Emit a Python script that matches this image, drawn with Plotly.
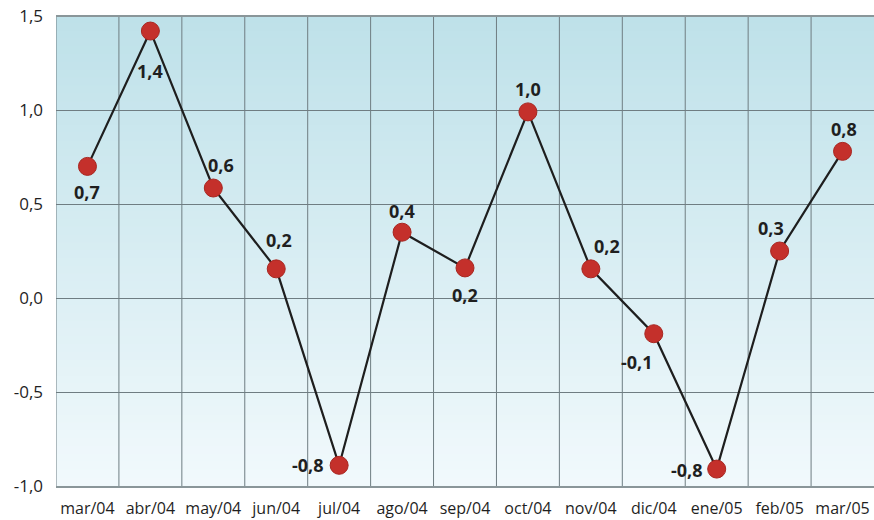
import plotly.graph_objects as go

months = ["mar/04", "abr/04", "may/04", "jun/04", "jul/04", "ago/04", "sep/04",
          "oct/04", "nov/04", "dic/04", "ene/05", "feb/05", "mar/05"]
values = [0.70, 1.42, 0.585, 0.155, -0.89, 0.35, 0.16, 0.99, 0.155, -0.19, -0.91, 0.25, 0.78]
labels = ["0,7", "1,4", "0,6", "0,2", "-0,8", "0,4", "0,2", "1,0", "0,2", "-0,1", "-0,8", "0,3", "0,8"]
y_ticks = [-1.0, -0.5, 0.0, 0.5, 1.0, 1.5]
y_tick_text = ["-1,0", "-0,5", "0,0", "0,5", "1,0", "1,5"]

# label offsets in pixels (dx right, dy up) -- styling only
label_dx = [0, 0, 8, 3, -31, 0, 0, 0, 16, -17, -30, -9, 1]
label_dy = [-26, -40, 23, 29, 0, 21, -27, 23, 23, -28, -1, 23, 22]

fig = go.Figure()

# background gradient (top light teal -> bottom near white)
n = 60
top = (190, 225, 233)
bot = (241, 249, 252)
for i in range(n):
    t = i / (n - 1)
    c = tuple(round(top[k] + (bot[k] - top[k]) * t) for k in range(3))
    fig.add_shape(type="rect", xref="paper", yref="paper",
                  x0=0, x1=1, y0=1 - (i + 1) / n, y1=1 - i / n + 0.002,
                  fillcolor="rgb(%d,%d,%d)" % c, line_width=0, layer="below")

fig.add_trace(go.Scatter(
    x=months, y=values, mode="lines+markers",
    line=dict(color="#1e1e1e", width=2.2),
    marker=dict(size=18, color="#c4302b", line=dict(color="#a82620", width=1)),
    cliponaxis=False, showlegend=False, hoverinfo="skip",
))

for m, v, lab, dx, dy in zip(months, values, labels, label_dx, label_dy):
    fig.add_annotation(x=m, y=v, text="<b>%s</b>" % lab, showarrow=False,
                       xshift=dx, yshift=dy, xanchor="center", yanchor="middle",
                       font=dict(family="Open Sans", size=18, color="#1f1f1f"))

fig.update_xaxes(
    type="category", range=[-0.5, 12.5], automargin=False,
    showgrid=False, showline=True, linecolor="#8a9699", linewidth=2,
    tickfont=dict(family="Open Sans", size=16, color="#1f1f1f"),
    ticks="", ticklabelstandoff=7,
)
# vertical gridlines at category boundaries
for i in range(13):
    fig.add_shape(type="line", xref="x", yref="paper", x0=i - 0.5, x1=i - 0.5,
                  y0=0, y1=1, line=dict(color="#6f7d82", width=1), layer="below")

fig.update_yaxes(
    range=[-1.0, 1.5], tickvals=y_ticks, ticktext=y_tick_text, automargin=False,
    showgrid=True, gridcolor="#6f7d82", gridwidth=1, zeroline=False,
    showline=False,
    tickfont=dict(family="Open Sans", size=17, color="#1f1f1f"),
    ticks="", ticklabelstandoff=12,
)
fig.add_shape(type="line", xref="paper", yref="paper", x0=0, x1=1, y0=1, y1=1,
              line=dict(color="#8a9699", width=2), layer="above")

fig.update_layout(
    width=874, height=520,
    margin=dict(l=56, r=0, t=16, b=34),
    paper_bgcolor="white", plot_bgcolor="rgba(0,0,0,0)",
)

fig.write_html("out.html", config={"displayModeBar": False},
               post_script="document.body.style.margin='0';document.body.style.overflow='hidden';")
